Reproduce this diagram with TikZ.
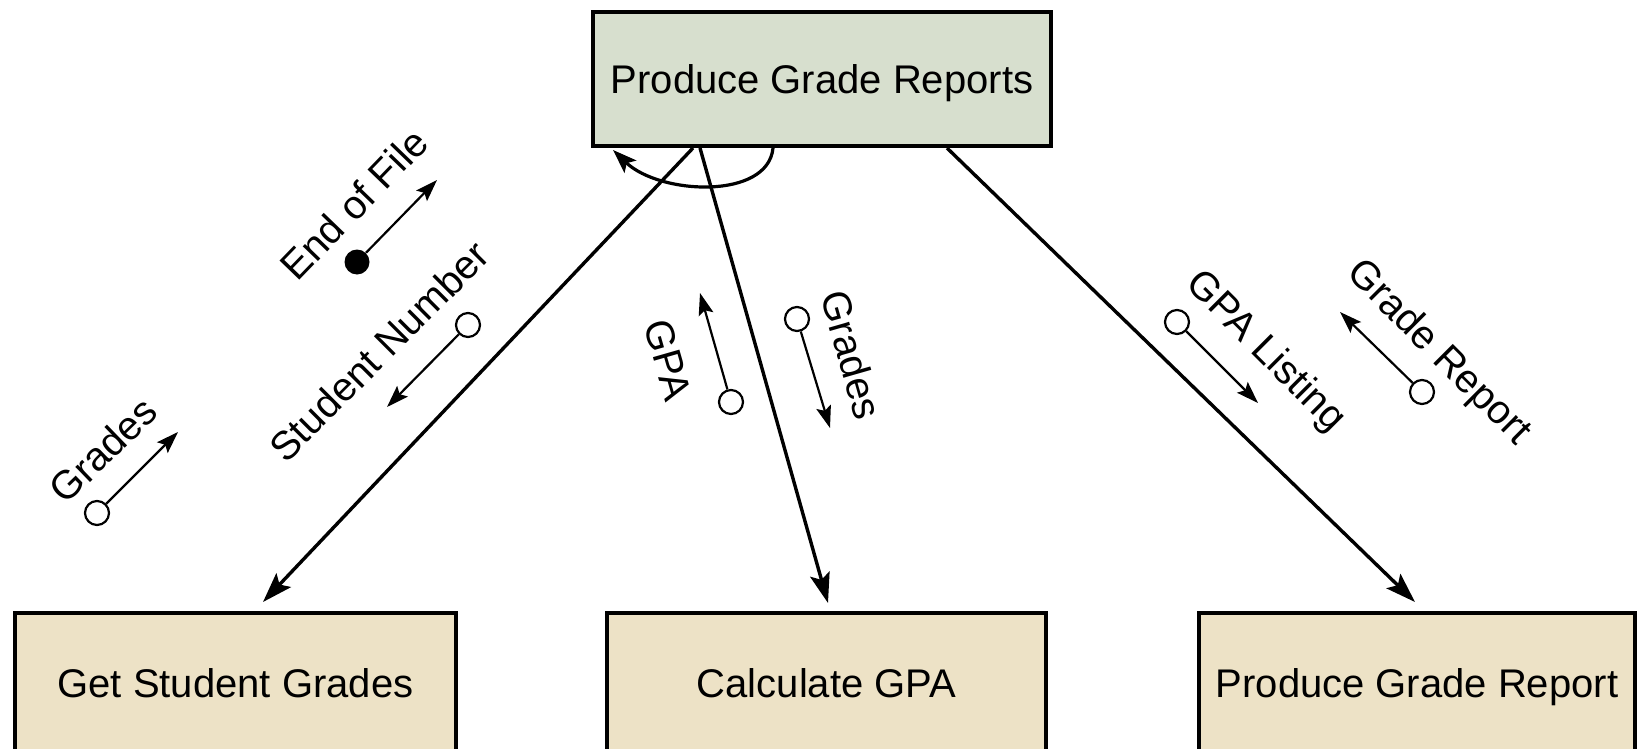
\documentclass[tikz,border=0pt]{standalone}
\usepackage{fontspec}
\setmainfont{Liberation Sans}
\usetikzlibrary{arrows.meta,calc}
\definecolor{topfill}{RGB}{215,223,206}
\definecolor{botfill}{RGB}{237,226,198}
\begin{document}
\begin{tikzpicture}[x=0.5pt,y=-0.5pt,
  box/.style={draw, line width=2pt, inner sep=0pt, text depth=0pt, font=\fontsize{20}{24}\selectfont},
  topbox/.style={box, fill=topfill},
  botbox/.style={box, fill=botfill, minimum height=70pt},
  main/.style={line width=1.7pt, -{Stealth[length=15pt,width=10pt,inset=3pt]}},
  loop/.style={line width=1.6pt, -{Stealth[length=12pt,width=8.5pt,inset=2.5pt]}},
  flow/.style={line width=1.1pt, -{Stealth[length=11pt,width=7.5pt,inset=2pt]}},
  oc/.style={circle, draw, line width=1.1pt, fill=white, minimum size=12pt, inner sep=0pt},
  fc/.style={circle, fill=black, minimum size=12.5pt, inner sep=0pt},
  lbl/.style={font=\fontsize{20}{24}\selectfont, inner sep=0pt}]
\useasboundingbox (0,0) rectangle (1638,749);
\clip (0,0) rectangle (1638,749);

% boxes
\node[topbox, minimum width=229pt, minimum height=67pt] (top) at (822,79) {Produce Grade Reports};
\node[botbox, minimum width=220.5pt] (gsg) at (235.5,683) {Get Student Grades};
\node[botbox, minimum width=219.5pt] (calc) at (826.5,683) {Calculate GPA};
\node[botbox, minimum width=218pt] (pgr) at (1417,683) {Produce Grade Report};

% main connectors
\draw[main] ($(top.south)+(-129,0)$) -- ($(gsg.north)+(27.5,-9)$);
\draw[main] ($(top.south)+(-122,0)$) -- ($(calc.north)+(1.5,-8)$);
\draw[main] ($(top.south)+(125,0)$) -- ($(pgr.north)+(-2,-9)$);

% iteration loop
\draw[loop] ($(top.south)+(-49,0)$) .. controls (768,200) and (660,195) .. ($(top.south)+(-209,2)$);

% couples
\node[fc] (eofc) at (357,262) {};
\coordinate (eoft) at (437,180);
\draw[flow] (eofc) -- (eoft);
\node[lbl, rotate=46] (eofl) at (354,204) {End of File};

\node[oc] (snc) at (468,325) {};
\coordinate (snt) at (387,407);
\draw[flow] (snc) -- (snt);
\node[lbl, rotate=45] (snl) at (379,351) {Student Number};

\node[oc] (g1c) at (97,513) {};
\coordinate (g1t) at (178,432);
\draw[flow] (g1c) -- (g1t);
\node[lbl, rotate=44] (g1l) at (103,450) {Grades};

\node[oc] (gpac) at (731,402) {};
\coordinate (gpat) at (700,293);
\draw[flow] (gpac) -- (gpat);
\node[lbl, rotate=-74] (gpal) at (668,360) {GPA};

\node[oc] (g2c) at (797,319) {};
\coordinate (g2t) at (830,428);
\draw[flow] (g2c) -- (g2t);
\node[lbl, rotate=-74] (g2l) at (852,355) {Grades};

\node[oc] (glc) at (1177,322) {};
\coordinate (glt) at (1258,403);
\draw[flow] (glc) -- (glt);
\node[lbl, rotate=-45] (gll) at (1265,352) {GPA Listing};

\node[oc] (grc) at (1422,392) {};
\coordinate (grt) at (1340,312);
\draw[flow] (grc) -- (grt);
\node[lbl, rotate=-45] (grl) at (1438,353) {Grade Report};
\end{tikzpicture}
\end{document}
